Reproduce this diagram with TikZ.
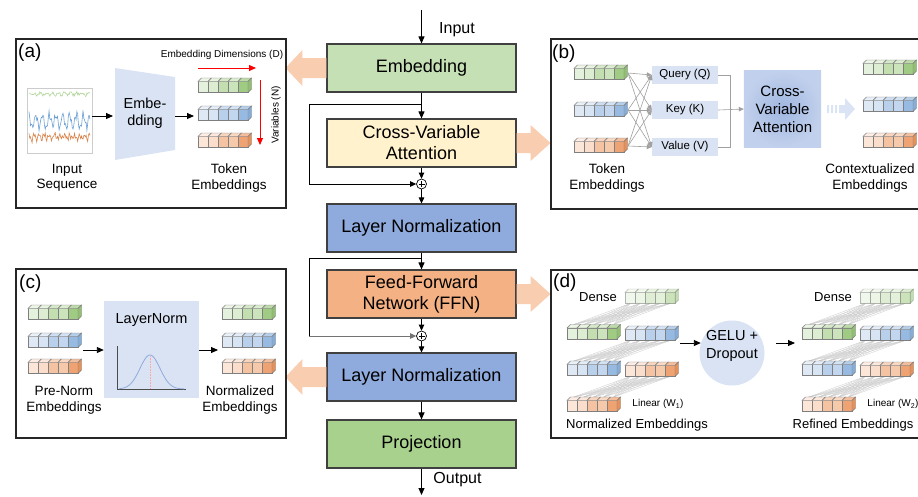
\documentclass[tikz,border=0pt]{standalone}
\usepackage{fontspec}
\setmainfont{Liberation Sans}
\usetikzlibrary{arrows.meta,calc}

% token-bar shades (light -> dark), plus side face
\definecolor{G1}{HTML}{E4F1DC}\definecolor{G2}{HTML}{DDEDD2}\definecolor{G3}{HTML}{C3DFB0}
\definecolor{G4}{HTML}{CCE4BC}\definecolor{G5}{HTML}{A0CB83}\definecolor{Gs}{HTML}{93BF75}
\definecolor{B1}{HTML}{DFE9F5}\definecolor{B2}{HTML}{D7E4F3}\definecolor{B3}{HTML}{B9D0EC}
\definecolor{B4}{HTML}{C2D7EF}\definecolor{B5}{HTML}{96BAE1}\definecolor{Bs}{HTML}{86ADD8}
\definecolor{O1}{HTML}{FCE6D8}\definecolor{O2}{HTML}{FADDCB}\definecolor{O3}{HTML}{F5C3A2}
\definecolor{O4}{HTML}{F6C9AB}\definecolor{O5}{HTML}{EFA272}\definecolor{Os}{HTML}{E4915B}
\definecolor{cellln}{HTML}{7F7F7F}
% block colours
\definecolor{embfill}{HTML}{C5E0B4}
\definecolor{attfill}{HTML}{FFF2CC}
\definecolor{lnfill}{HTML}{8FAADC}
\definecolor{ffnfill}{HTML}{F4B183}
\definecolor{projfill}{HTML}{A9D18E}
\definecolor{blk}{HTML}{F9CDB0}
\definecolor{paleblue}{HTML}{DAE3F3}
\definecolor{linkgray}{HTML}{A0A0A0}
\definecolor{seqgreen}{HTML}{B3D69B}
\definecolor{seqblue}{HTML}{6A9FD4}
\definecolor{seqorange}{HTML}{D9834A}

\newcommand\fs[2]{\fontsize{#1}{#2}\selectfont}

% a 3-D token embedding bar of five cells; #2,#3 = top-left of the front face
\newcommand\tokbar[4][1]{%
  \begin{scope}[shift={(#2,#3)}, opacity=#1]
    \foreach \i in {1,...,5}{
      \filldraw[fill=#4\i, draw=cellln, line width=0.45pt] ({(\i-1)*10},0) rectangle ({\i*10},11);
      \filldraw[fill=#4\i!70!white, draw=cellln, line width=0.45pt]
        ({(\i-1)*10},0) -- ++(3.5,-3.5) -- ++(10,0) -- ++(-3.5,3.5) -- cycle;
    }
    \filldraw[fill=#4s, draw=cellln, line width=0.45pt]
      (50,0) -- ++(3.5,-3.5) -- ++(0,11) -- ++(-3.5,3.5) -- cycle;
  \end{scope}}

% fully connected links between a lower-left bar and an upper-right bar
\newcommand\denselinks[4]{%
  \foreach \i in {0,...,4}{\foreach \j in {0,...,4}{
    \draw[gray!40, line width=0.35pt] ({#1+\i*10+6.75},{#2-3.5}) -- ({#3+\j*10+5},{#4+11});
  }}}

\begin{document}
\begin{tikzpicture}[x=1pt,y=-1pt,
  every node/.style={inner sep=0pt},
  mainbox/.style={draw=black!75, line width=1.1pt, minimum width=189pt, minimum height=48pt,
                  align=center, font=\fs{18}{21}},
  arr/.style={-{Triangle[length=7pt,width=6pt]}, line width=0.9pt, black},
  sarr/.style={-{Triangle[length=6pt,width=5.5pt]}, line width=0.9pt, black},
  redarr/.style={-{Triangle[length=7pt,width=6pt]}, line width=1pt, red},
  garr/.style={-{Triangle[length=5pt,width=4.5pt]}, line width=0.6pt, linkgray},
  gline/.style={line width=0.6pt, linkgray},
  panel/.style={draw=black!85, line width=1.1pt},
  plabel/.style={anchor=base west, font=\fs{19}{22}},
  caption/.style={align=center, font=\fs{13.5}{15.5}},
  qkv/.style={fill=paleblue, minimum width=66pt, minimum height=18pt, font=\fs{11.5}{13}},
  blkarrow/.style={fill=blk},
  plus/.style={circle, draw=black, line width=0.7pt, minimum size=10pt, fill=white}]

\useasboundingbox (0,0) rectangle (918,496);

% ---------------- main column ----------------
\node[mainbox, fill=embfill]  (emb)  at (421.5,68)  {Embedding};
\node[mainbox, fill=attfill]  (cva)  at (421.5,143) {Cross-Variable\\Attention};
\node[mainbox, fill=lnfill]   (ln1)  at (421.5,228) {Layer Normalization};
\node[mainbox, fill=ffnfill]  (ffn)  at (421.5,294) {Feed-Forward\\Network (FFN)};
\node[mainbox, fill=lnfill]   (ln2)  at (421.5,377) {Layer Normalization};
\node[mainbox, fill=projfill] (proj) at (421.5,444) {Projection};
\node[plus] (p1) at (421.5,184) {};
\node[plus] (p2) at (421.5,336) {};
\foreach \p in {p1,p2}{
  \draw[line width=0.6pt] ($(\p)+(-3,0)$) -- ($(\p)+(3,0)$) ($(\p)+(0,-3)$) -- ($(\p)+(0,3)$);
}

\coordinate (inp) at (421.5,10);
\coordinate (outp) at (421.5,495);
\draw[arr] (inp) -- (emb.north);
\node[font=\fs{16}{18}] at (457,30) {Input};
\draw[arr] (emb.south) -- (cva.north);
\draw[sarr] (cva.south) -- (p1.north);
\draw[sarr] (p1.south) -- (ln1.north);
\draw[arr] (ln1.south) -- (ffn.north);
\draw[sarr] (ffn.south) -- (p2.north);
\draw[sarr] (p2.south) -- (ln2.north);
\draw[arr] (ln2.south) -- (proj.north);
\draw[arr] (proj.south) -- (outp);
\node[font=\fs{16}{18}] at (457.5,480) {Output};

% residual paths
\coordinate (r1) at (421.5,104); \coordinate (r1k) at (309,104);
\coordinate (r2) at (421.5,258); \coordinate (r2k) at (309,258);
\draw[sarr] (r1) -- (r1k) |- (p1.west);
\draw[line width=0.9pt] (r2) -- (r2k) -- (r2k |- p2);
\draw[sarr, black!55] (r2k |- p2) -- (p2.west);

% block arrows towards the detail panels
\fill[blkarrow] (emb.west) ++(0,-10) -- ++(-24,0) -- ++(0,-8) -- ++(-17,18)
  -- ++(17,18) -- ++(0,-8) -- ++(24,0) -- cycle;
\fill[blkarrow] (ln2.west) ++(0,-10) -- ++(-24,0) -- ++(0,-8) -- ++(-17,18)
  -- ++(17,18) -- ++(0,-8) -- ++(24,0) -- cycle;
\fill[blkarrow] (cva.east) ++(0,-10) -- ++(14,0) -- ++(0,-8) -- ++(20,18)
  -- ++(-20,18) -- ++(0,-8) -- ++(-14,0) -- cycle;
\fill[blkarrow] (ffn.east) ++(0,-10) -- ++(14,0) -- ++(0,-8) -- ++(20,18)
  -- ++(-20,18) -- ++(0,-8) -- ++(-14,0) -- cycle;

% ---------------- panel (a) ----------------
\draw[panel] (16,39) rectangle (286,208);
\node[plabel] at (18,57) {(a)};
\node[draw=gray!40, fill=white, line width=0.8pt, minimum width=65pt, minimum height=65pt] (seq) at (59.5,120.5) {};
\pgfmathsetseed{11}
\draw[seqgreen, line width=0.6pt] plot[domain=29:90, samples=80] (\x,{94+1.5*rand+1.2*sin(\x*60)});
\draw[seqblue, line width=0.6pt] plot[domain=29:90, samples=80] (\x,{121-6*sin(\x*53)-3*sin(\x*127)+2.5*rand});
\draw[seqorange, line width=0.6pt] plot[domain=29:90, samples=80] (\x,{137+2.5*sin(\x*71)+2*sin(\x*149)+1.8*rand});
\fill[paleblue] (115,68) -- (175,77) -- (175,150) -- (115,160) -- cycle;
\coordinate (trapL) at (113,116);
\coordinate (trapR) at (175,116);
\coordinate (tokA) at (194,116);
\node[align=center, font=\fs{14.5}{17}] at (145,113) {Embe-\\dding};
\draw[arr] (seq.east |- trapL) -- (trapL);
\draw[arr] (trapR) -- (tokA);
\tokbar{198}{81.5}{G}
\tokbar{198}{109.5}{B}
\tokbar{198}{136.5}{O}
\coordinate (dimS) at (198,68); \coordinate (dimE) at (256,68);
\coordinate (varS) at (260,80); \coordinate (varE) at (260,145);
\draw[redarr] (dimS) -- (dimE);
\draw[redarr] (varS) -- (varE);
\node[font=\fs{10}{12}] at (222,55) {Embedding Dimensions (D)};
\node[font=\fs{10}{12}, rotate=90] at (276,115) {Variables (N)};
\node[caption] at (67,178) {Input\\Sequence};
\node[caption] at (229,178) {Token\\Embeddings};

% ---------------- panel (b) ----------------
\draw[panel] (918,39) -- (551,39) -- (551,209) -- (918,209);
\node[plabel] at (552,58) {(b)};
\tokbar{574}{68.5}{G}
\tokbar{574}{105.5}{B}
\tokbar{574}{141.5}{O}
\coordinate (bg) at (628,73);
\coordinate (bb) at (628,110);
\coordinate (bo) at (628,146);
\node[qkv] (q) at (685,75)  {Query (Q)};
\node[qkv] (k) at (685,110) {Key (K)};
\node[qkv] (v) at (685,147) {Value (V)};
\foreach \s in {bg,bb,bo}{\foreach \t in {q,k,v}{\draw[garr] (\s) -- (\t.west);}}
\node[minimum width=77pt, minimum height=76pt] (attn) at (782.5,109) {};
\shade[inner color=lnfill!85!white, outer color=lnfill!55!white] (attn.north west) rectangle (attn.south east);
\node[align=center, font=\fs{15}{18}] at (attn) {Cross-\\Variable\\Attention};
\coordinate (mtop) at (730,75);
\coordinate (mbot) at (730,147);
\draw[gline] (q.east) -- (mtop) -- (mbot) -- (v.east);
\draw[garr] (k.east) -- (attn.west);
% striped flow arrow
\fill[paleblue!70!lnfill!60!white]
  (827,105) rectangle (829,113) (831,105) rectangle (833,113) (835,105) rectangle (837,113)
  (839,105) -- (845,105) -- (845,98) -- (855,109) -- (845,120) -- (845,113) -- (839,113) -- cycle;
\tokbar{863}{63.5}{G}
\tokbar{863}{100.5}{B}
\tokbar{863}{136.5}{O}
\node[caption] at (607,178) {Token\\Embeddings};
\node[caption] at (870,178) {Contextualized\\Embeddings};

% ---------------- panel (c) ----------------
\draw[panel] (16,269) rectangle (286,438);
\node[plabel] at (19,288) {(c)};
\tokbar{28}{308.5}{G}
\tokbar{28}{336.5}{B}
\tokbar{28}{362.5}{O}
\node[fill=paleblue, minimum width=95pt, minimum height=97pt] (lnbox) at (151.5,349.5) {};
\node[font=\fs{14.5}{17}] at (151.5,320) {LayerNorm};
\draw[black!70, line width=0.6pt] (117,346) -- (117,389) -- (186,389);
\draw[lnfill, line width=0.8pt] plot[domain=119:184, samples=70] (\x,{389-34*exp(-((\x-150)/10)^2/2)});
\draw[red!35, densely dotted, line width=0.6pt] (150,356) -- (150,389);
\coordinate (cL) at (83,350);
\coordinate (cR) at (218,350);
\draw[arr] (cL) -- (lnbox.west |- cL);
\draw[arr] (lnbox.east |- cR) -- (cR);
\tokbar{222}{308.5}{G}
\tokbar{222}{336.5}{B}
\tokbar{222}{362.5}{O}
\node[caption] at (64,400) {Pre-Norm\\Embeddings};
\node[caption] at (240,400) {Normalized\\Embeddings};

% ---------------- panel (d) ----------------
\draw[panel] (918,270) -- (551,270) -- (551,438) -- (918,438);
\node[plabel] at (553,287) {(d)};
\foreach \dx/\w in {0/1,235/2}{
  \denselinks{567+\dx}{328}{625+\dx}{292.5}
  \denselinks{567+\dx}{364.5}{625+\dx}{329.5}
  \denselinks{567+\dx}{400.5}{625+\dx}{365.5}
  \tokbar[0.55]{625+\dx}{292.5}{G}
  \tokbar{567+\dx}{328}{G}
  \tokbar{625+\dx}{329.5}{B}
  \tokbar{567+\dx}{364.5}{B}
  \tokbar{625+\dx}{365.5}{O}
  \tokbar{567+\dx}{400.5}{O}
  \node[font=\fs{13}{15}] at (598+\dx,297) {Dense};
  \node[font=\fs{10}{12}] at (658+\dx,404) {Linear (W\textsubscript{\w})};
}
\node[circle, fill=paleblue, minimum size=65pt] (gelu) at (732,353) {};
\node[align=center, font=\fs{14.5}{18}] at (732,346) {GELU +\\Dropout};
\coordinate (dL) at (680,343);
\coordinate (dR1) at (776,343);
\coordinate (dR2) at (795,343);
\draw[arr] (dL) -- ($(gelu.west |- dL)+(1.5,0)$);
\draw[arr] (dR1) -- (dR2);
\node[font=\fs{13}{15}] at (637,425) {Normalized Embeddings};
\node[font=\fs{13}{15}] at (853,425) {Refined Embeddings};

\end{tikzpicture}
\end{document}
